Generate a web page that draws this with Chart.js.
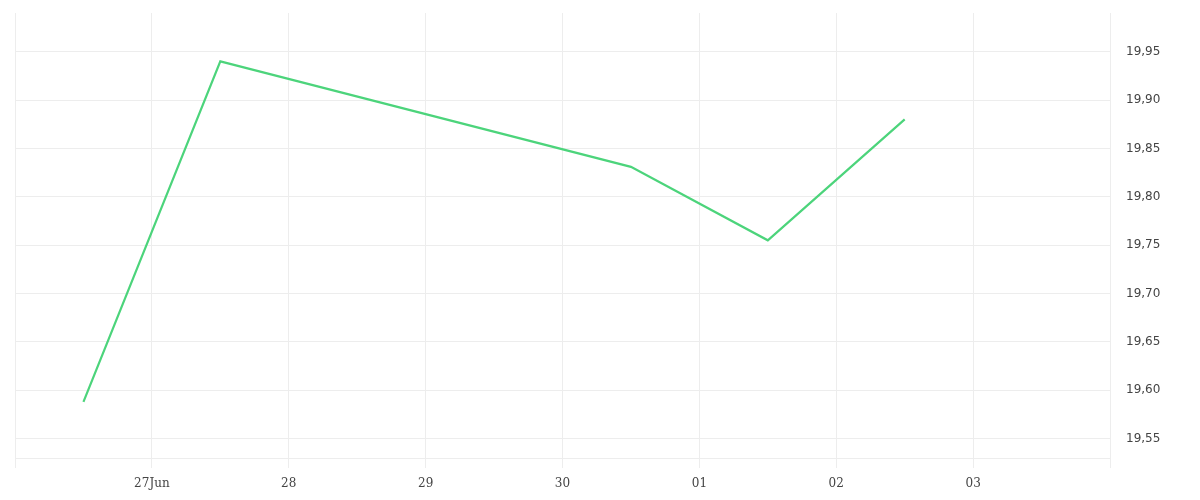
<!DOCTYPE html>
<html>
<head>
<meta charset="utf-8">
<script src="https://cdn.jsdelivr.net/npm/chart.js@4"></script>
<style>
html,body{margin:0;padding:0;background:#fff;}
#wrap{width:1200px;height:500px;}
</style>
</head>
<body>
<div id="wrap"><canvas id="c" width="1200" height="500"></canvas></div>
<script>
const startDate = '2024-06-26T00:00:00Z';
const dates = ['2024-06-26T12:00:00Z','2024-06-27T12:00:00Z','2024-06-30T12:00:00Z','2024-07-01T12:00:00Z','2024-07-02T12:00:00Z'];
const values = [19.588, 19.940, 19.831, 19.755, 19.880];
const xTickLabels = ['', '27Jun', '28', '29', '30', '01', '02', '03', ''];
const yTicks = [19.55, 19.60, 19.65, 19.70, 19.75, 19.80, 19.85, 19.90, 19.95];

const DAY = 86400000;
const t0 = Date.parse(startDate);
const points = dates.map((d, i) => ({x: (Date.parse(d) - t0) / DAY, y: values[i]}));

new Chart(document.getElementById('c'), {
  type: 'line',
  data: {
    datasets: [{
      data: points,
      borderColor: '#4cd47b',
      borderWidth: 2.2,
      pointRadius: 0,
      tension: 0,
      fill: false
    }]
  },
  options: {
    responsive: false,
    animation: false,
    devicePixelRatio: 1,
    layout: {padding: {left: 15, top: 13, right: 0, bottom: 0}},
    plugins: {legend: {display: false}, tooltip: {enabled: false}},
    scales: {
      x: {
        type: 'linear',
        min: 0,
        max: xTickLabels.length - 1,
        ticks: {
          stepSize: 1,
          autoSkip: false,
          maxRotation: 0,
          padding: 9,
          color: '#444',
          font: {family: 'DejaVu Serif', size: 12},
          callback: (v) => xTickLabels[v] ?? ''
        },
        grid: {color: '#ededed', lineWidth: 1, drawTicks: true, tickLength: 10},
        border: {display: true, color: '#ededed'},
        afterFit: (s) => { s.height = 42; s.paddingLeft = 0; s.paddingRight = 0; }
      },
      y: {
        position: 'right',
        min: 19.53,
        max: 19.99,
        afterBuildTicks: (s) => { s.ticks = yTicks.map(v => ({value: v})); },
        ticks: {
          padding: 16,
          color: '#444',
          font: {family: 'DejaVu Sans', size: 12},
          callback: (v) => v.toFixed(2).replace('.', ',')
        },
        grid: {color: '#ededed', lineWidth: 1, drawTicks: false},
        border: {display: true, color: '#ededed'},
        afterFit: (s) => { s.width = 90; s.paddingTop = 0; s.paddingBottom = 0; }
      }
    }
  }
});
</script>
</body>
</html>
